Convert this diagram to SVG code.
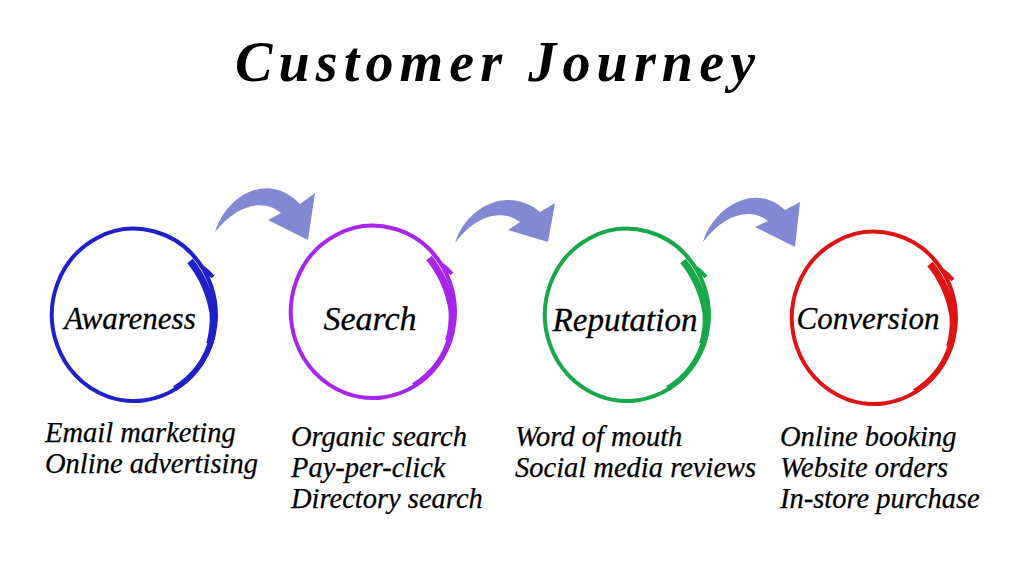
<svg xmlns="http://www.w3.org/2000/svg" xmlns:xlink="http://www.w3.org/1999/xlink" width="1024" height="572" viewBox="0 0 1024 572">
<style>
.ring path{fill:none;stroke:currentColor;stroke-linecap:butt}
.title{font-family:"Liberation Serif","Times New Roman",serif;font-style:italic;font-weight:bold;font-size:56px;fill:#000}
.lbl{font-family:"Liberation Serif","Times New Roman",serif;font-style:italic;fill:#000;text-anchor:middle;stroke:#000;stroke-width:0.3}
.list{font-family:"Liberation Serif","Times New Roman",serif;font-style:italic;font-size:28.5px;fill:#000;stroke:#000;stroke-width:0.25}
.arrow{fill:#8189d2;stroke:none}
</style>
<defs>
<g id="ring" class="ring">
<path d="M79,-38 Q74,-44 68,-48.1 A82,86 0 0 0 -77.1,29.4 A82,86 0 1 0 59,-59.7" stroke-width="4"/>
<path d="M56,-54 Q74,-32 79,-2 A80.5,84.5 0 0 1 75.6,28.9" stroke-width="7"/>
<path d="M78.2,22 A81,85 0 0 1 40.5,73.6" stroke-width="5.5"/>
</g>
</defs>
<rect width="1024" height="572" fill="#fff"/>
<text class="title" x="235" y="81" textLength="520" lengthAdjust="spacing">Customer Journey</text>
<g id="connectors">
<path class="arrow" d="M215,232 C226,196 268,170 300,204 L315,193 L308,240 L268,220 L281,213 C265,199 238,203 215,232 Z"/>
<path class="arrow" d="M455,243 C466,207 508,185 540,212 L555,203 L548,242 L508,230 L520,222 C505,210 478,212 455,243 Z"/>
<path class="arrow" d="M703,242 C714,206 756,182 785,210 L800,202 L795,247 L755,227 L768,221 C752,208 726,212 703,242 Z"/>
</g>
<g id="awareness">
<use xlink:href="#ring" transform="translate(134,315)" style="color:#2020c8"/>
<text class="lbl" x="130" y="329" font-size="31">Awareness</text>
<text class="list" x="45" y="442">Email marketing</text>
<text class="list" x="45" y="473">Online advertising</text>
</g>
<g id="search">
<use xlink:href="#ring" transform="translate(373,312)" style="color:#a626ea"/>
<text class="lbl" x="370" y="330" font-size="34">Search</text>
<text class="list" x="291" y="446">Organic search</text>
<text class="list" x="291" y="477">Pay-per-click</text>
<text class="list" x="291" y="508">Directory search</text>
</g>
<g id="reputation">
<use xlink:href="#ring" transform="translate(627,315)" style="color:#18a84a"/>
<text class="lbl" x="625" y="331" font-size="33">Reputation</text>
<text class="list" x="515" y="446">Word of mouth</text>
<text class="list" x="515" y="477">Social media reviews</text>
</g>
<g id="conversion">
<use xlink:href="#ring" transform="translate(874,318)" style="color:#dc1414"/>
<text class="lbl" x="868" y="329" font-size="31">Conversion</text>
<text class="list" x="780" y="446">Online booking</text>
<text class="list" x="780" y="477">Website orders</text>
<text class="list" x="780" y="508">In-store purchase</text>
</g>
</svg>
